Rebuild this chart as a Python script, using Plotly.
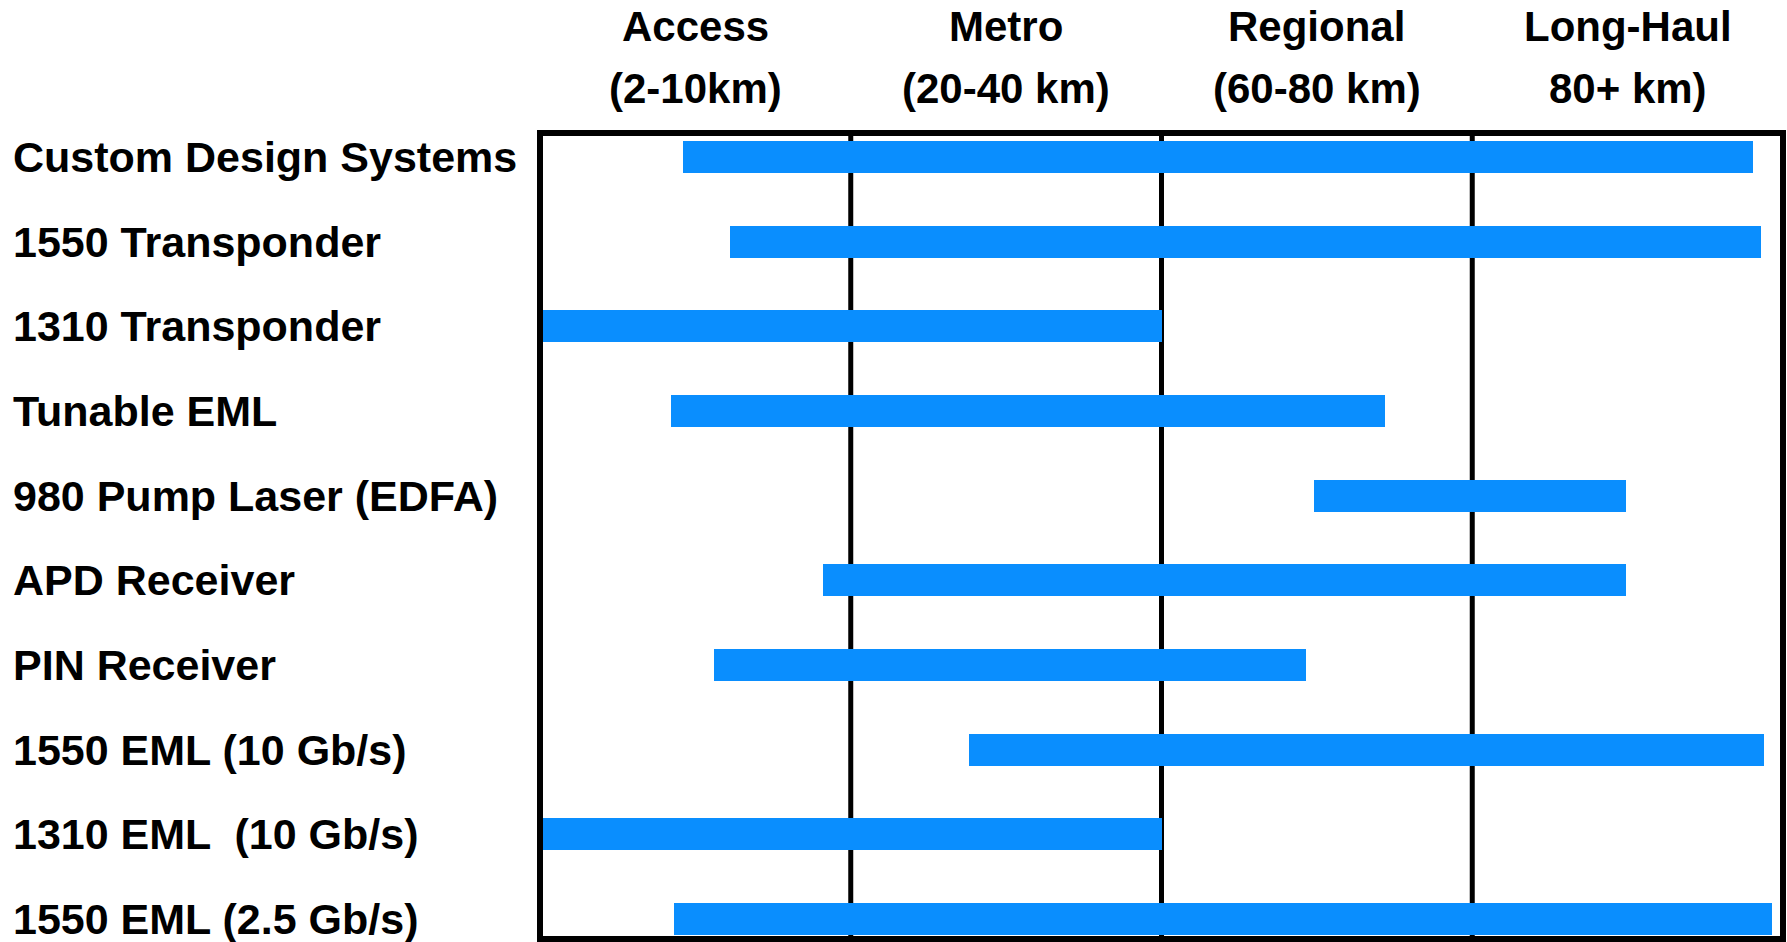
import plotly.graph_objects as go

# Categories (top to bottom)
products = [
    "Custom Design Systems",
    "1550 Transponder",
    "1310 Transponder",
    "Tunable EML",
    "980 Pump Laser (EDFA)",
    "APD Receiver",
    "PIN Receiver",
    "1550 EML (10 Gb/s)",
    "1310 EML  (10 Gb/s)",
    "1550 EML (2.5 Gb/s)",
]

# Reach span on a 0-4 scale (one unit per market column)
span_start = [0.46, 0.61, 0.0, 0.42, 2.49, 0.91, 0.56, 1.38, 0.0, 0.43]
span_end = [3.905, 3.93, 2.0, 2.72, 3.495, 3.495, 2.465, 3.94, 2.0, 3.965]

# Column headers
col_titles = ["Access", "Metro", "Regional", "Long-Haul"]
col_ranges = ["(2-10km)", "(20-40 km)", "(60-80 km)", "80+ km)"]
col_centers = [0.5, 1.5, 2.5, 3.5]
dividers = [1, 2, 3]

W, H = 1787, 942
ML, MR, MT, MB = 540, 4, 133, 3
FONT = "'Liberation Sans', Arial, sans-serif"
FS = 42

fig = go.Figure()
fig.add_trace(go.Bar(
    y=products,
    x=[e - s for s, e in zip(span_start, span_end)],
    base=span_start,
    orientation="h",
    width=0.38,
    marker=dict(color="#0A8EFE", line=dict(width=0)),
    hoverinfo="skip",
))

plot_w = W - ML - MR
plot_h = H - MT - MB

annotations = []
label_x = (11 - ML) / plot_w
for p in products:
    annotations.append(dict(
        text=p, x=label_x, xref="paper", xanchor="left",
        y=p, yref="y", yanchor="middle", showarrow=False,
        font=dict(family=FONT, size=43, color="black", weight="bold"),
    ))
y1 = 1 + (MT - 27) / plot_h
y2 = 1 + (MT - 89) / plot_h
for c, t, r in zip(col_centers, col_titles, col_ranges):
    annotations.append(dict(
        text=t, x=c, xref="x", xanchor="center", y=y1, yref="paper",
        yanchor="middle", showarrow=False,
        font=dict(family=FONT, size=FS, color="black", weight="bold"),
    ))
    annotations.append(dict(
        text=r, x=c, xref="x", xanchor="center", y=y2, yref="paper",
        yanchor="middle", showarrow=False,
        font=dict(family=FONT, size=FS, color="black", weight="bold"),
    ))

shapes = []
for d in dividers:
    shapes.append(dict(type="line", xref="x", yref="paper", x0=d, x1=d,
                       y0=0, y1=1, line=dict(color="black", width=5),
                       layer="below"))
shapes.append(dict(type="rect", xref="paper", yref="paper", x0=0, x1=1,
                   y0=0, y1=1, line=dict(color="black", width=6),
                   layer="above"))

fig.update_layout(
    width=W, height=H,
    margin=dict(l=ML, r=MR, t=MT, b=MB),
    paper_bgcolor="white", plot_bgcolor="white",
    showlegend=False,
    xaxis=dict(range=[0, 4], visible=False, showgrid=False, zeroline=False),
    yaxis=dict(range=[9.236, -0.283], showticklabels=False, showgrid=False,
               zeroline=False, ticks="", categoryorder="array",
               categoryarray=products),
    annotations=annotations,
    shapes=shapes,
    bargap=0,
)

fig.write_html("out.html")
